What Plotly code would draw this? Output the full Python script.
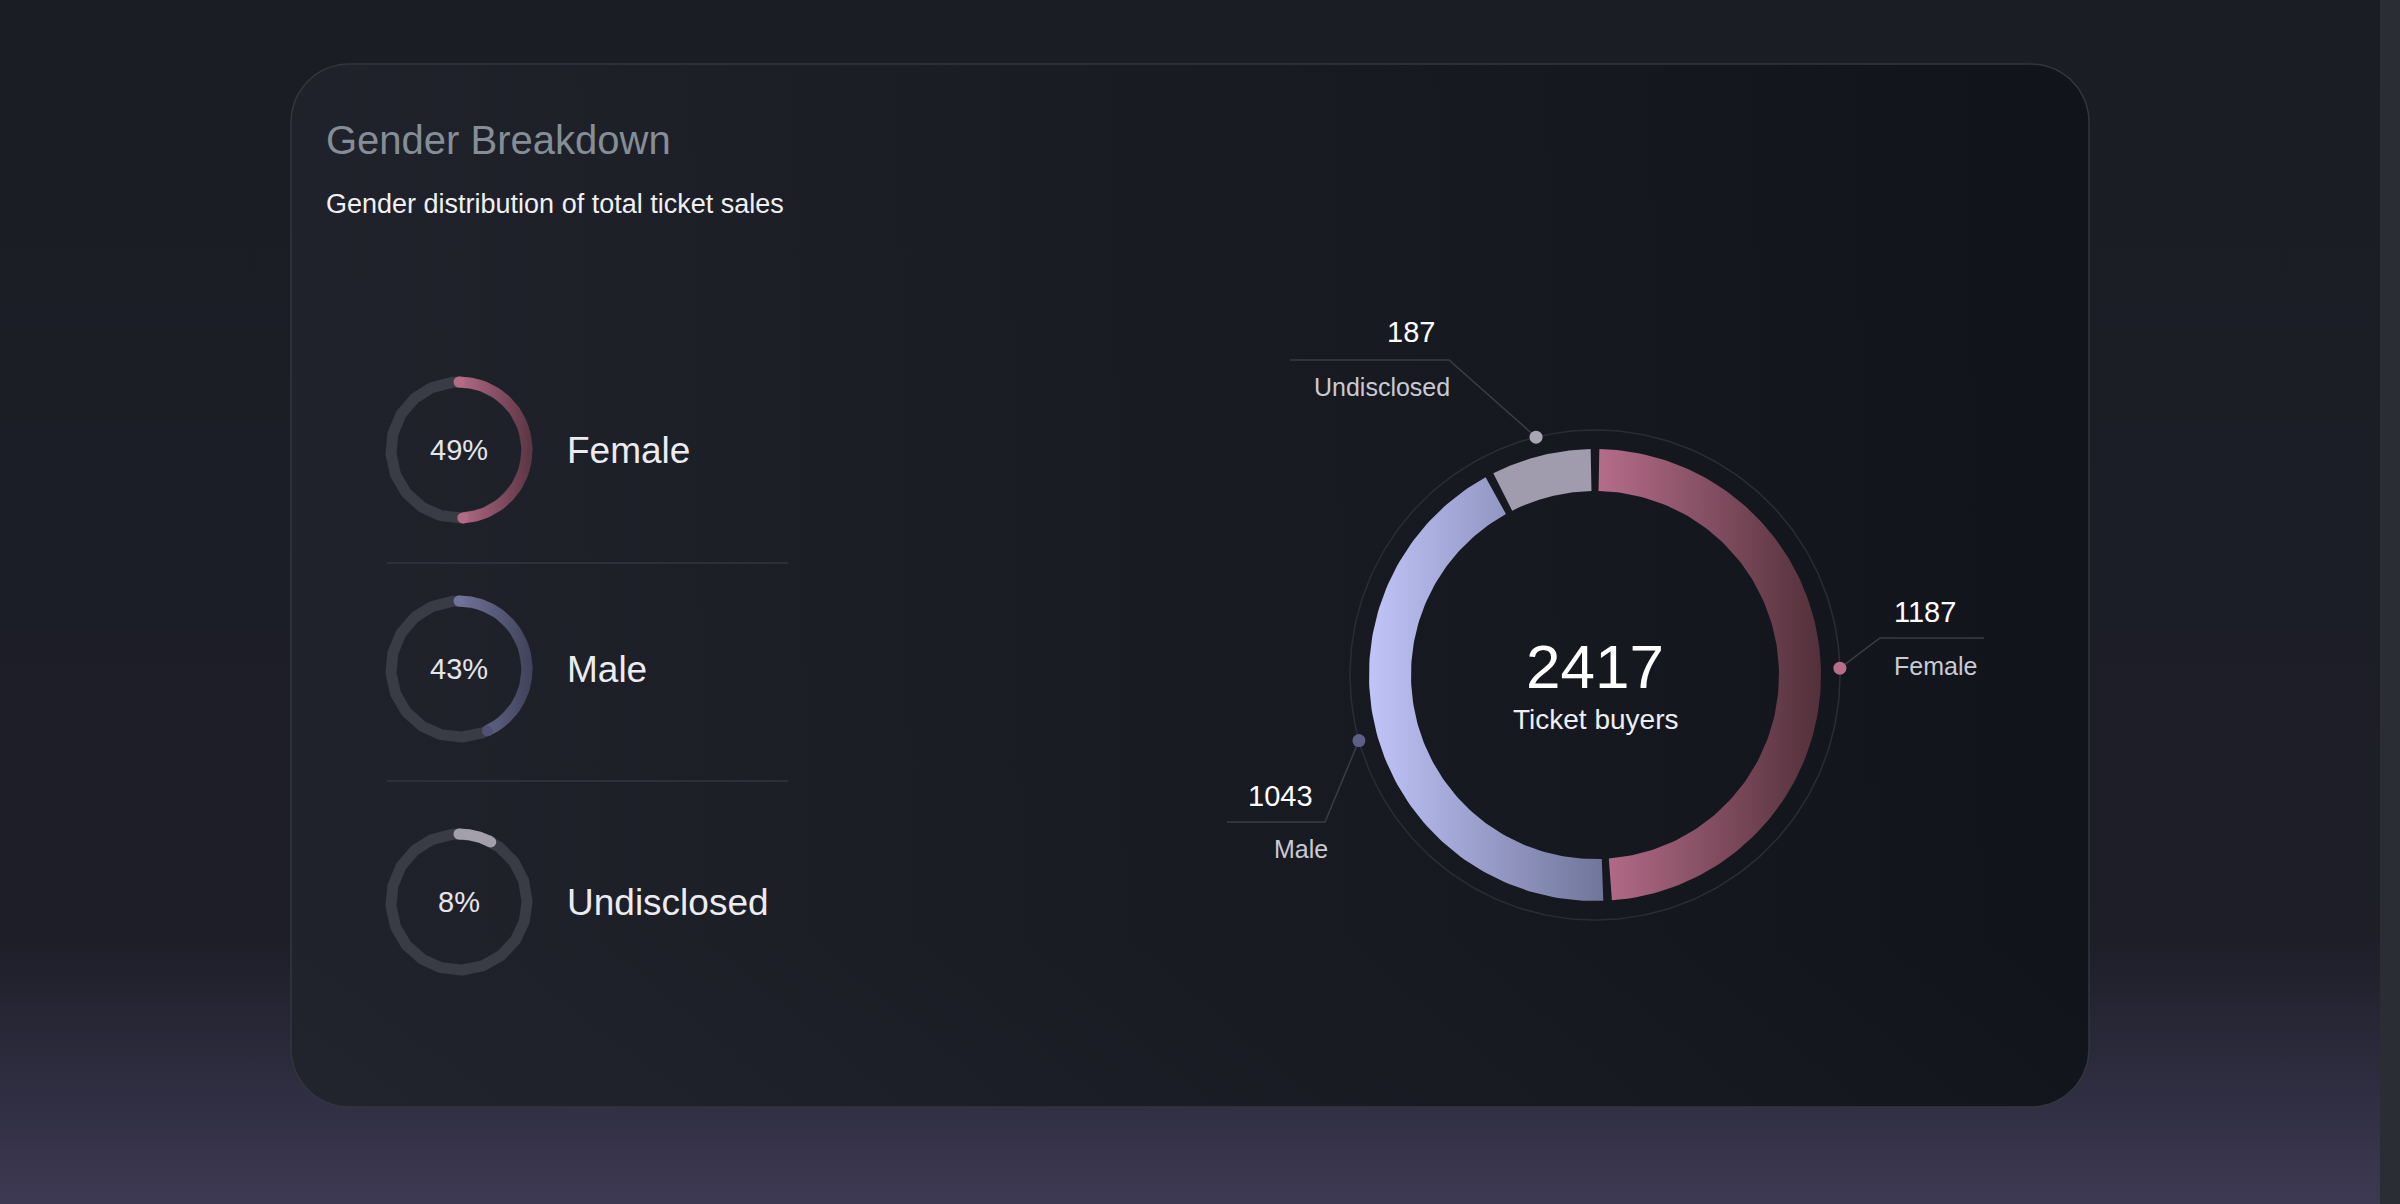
import numpy as np
import plotly.graph_objects as go

categories = ["Female", "Male", "Undisclosed"]
counts = [1187, 1043, 187]
total_label = "Ticket buyers"
pct_labels = ["49%", "43%", "8%"]
title = "Gender Breakdown"
subtitle = "Gender distribution of total ticket sales"

W, H = 2400, 1204
FONT = "Liberation Sans"
fig = go.Figure()

def arc_poly(cx, cy, r0, r1, a0, a1, n=120):
    t = np.radians(np.linspace(a0, a1, n))
    xo = cx + r1 * np.sin(t); yo = cy - r1 * np.cos(t)
    xi = cx + r0 * np.sin(t[::-1]); yi = cy - r0 * np.cos(t[::-1])
    return np.r_[xo, xi, xo[0]], np.r_[yo, yi, yo[0]]

def poly(x, y, color=None, grad=None, line=None):
    kw = dict(x=x, y=y, mode="lines", fill="toself", hoverinfo="skip", showlegend=False,
              line=line or dict(width=0))
    if grad:
        kw["fillgradient"] = grad
    else:
        kw["fillcolor"] = color
    fig.add_trace(go.Scatter(**kw))

# background (gradient index 0 = bottom of screen because y axis is reversed)
poly([0, W, W, 0, 0], [0, 0, H, H, 0],
     grad=dict(type="vertical", colorscale=[[0, "#3d3953"], [0.22, "#1d1e28"], [1, "#1b1d25"]]))
poly([2380, W, W, 2380, 2380], [0, 0, H, H, 0], color="#2b2d34")

# card (rounded rectangle)
x0c, x1c, y0c, y1c, rc = 291, 2089, 64, 1107, 58
ang = np.linspace(0, np.pi / 2, 20)
cx_ = np.r_[x1c - rc + rc * np.sin(ang), x1c - rc + rc * np.cos(ang), x0c + rc - rc * np.sin(ang), x0c + rc - rc * np.cos(ang)]
cy_ = np.r_[y0c + rc - rc * np.cos(ang), y1c - rc + rc * np.sin(ang), y1c - rc + rc * np.cos(ang), y0c + rc - rc * np.sin(ang)]
poly(np.r_[cx_, cx_[0]], np.r_[cy_, cy_[0]],
     grad=dict(type="horizontal", colorscale=[[0, "rgba(33,35,44,0.92)"], [1, "rgba(17,19,26,0.92)"]]),
     line=dict(width=1.5, color="#33363f"))

total = sum(counts)
fracs = [c / total for c in counts]

# main donut
CX, CY, RI, RO, RT = 1595, 675, 184, 226, 245
t = np.radians(np.linspace(0, 360, 300))
fig.add_trace(go.Scatter(x=CX + RT * np.sin(t), y=CY - RT * np.cos(t), mode="lines",
                         line=dict(color="#2a2d37", width=1.5), hoverinfo="skip", showlegend=False))
grads = [["#b56d89", "#52303a"], ["#c0c4f8", "#70759a"], None]
solid = [None, None, "#a09cad"]
dot_colors = ["#b76e8a", "#5d6084", "#a9a6b3"]
start = 0
mids = []
for i, f in enumerate(fracs):
    a0, a1 = start * 360 + 1.1, (start + f) * 360 - 1.1
    mids.append((start + f / 2) * 360)
    x, y = arc_poly(CX, CY, RI, RO, a0, a1)
    if grads[i]:
        poly(x, y, grad=dict(type="horizontal", colorscale=[[0, grads[i][0]], [1, grads[i][1]]]))
    else:
        poly(x, y, color=solid[i])
    start += f

# callouts
dots_x = [CX + RT * np.sin(np.radians(m)) for m in mids]
dots_y = [CY - RT * np.cos(np.radians(m)) for m in mids]
elbow = [(1880, 638), (1325, 822), (1449, 360)]
end = [(1984, 638), (1227, 822), (1290, 360)]
for i in range(3):
    fig.add_trace(go.Scatter(x=[dots_x[i], elbow[i][0], end[i][0]], y=[dots_y[i], elbow[i][1], end[i][1]],
                             mode="lines", line=dict(color="#3a3d47", width=1.5), hoverinfo="skip", showlegend=False))
fig.add_trace(go.Scatter(x=dots_x, y=dots_y, mode="markers", marker=dict(size=13, color=dot_colors),
                         hoverinfo="skip", showlegend=False))
num_pos = [(1925, 612), (1280, 796), (1411, 332)]
lab_pos = [(1935, 666), (1301, 849), (1382, 387)]
ann = []
for i in range(3):
    ann.append(dict(x=num_pos[i][0], y=num_pos[i][1], text=str(counts[i]),
                    font=dict(size=29, color="#ffffff", family=FONT)))
    ann.append(dict(x=lab_pos[i][0], y=lab_pos[i][1], text=categories[i],
                    font=dict(size=25, color="#c9cad3", family=FONT)))
ann.append(dict(x=CX, y=666, text=str(total), font=dict(size=62, color="#ffffff", family=FONT)))
ann.append(dict(x=CX, y=719, text=total_label, font=dict(size=28, color="#eeeef2", family=FONT)))

# small rings
scx, sr, sw = 459, 68, 11
scy = [450, 669, 902]
sgrad = [["#b36b86", "#5a3542"], ["#707399", "#40425a"], None]
for i in range(3):
    cyv = scy[i]
    fig.add_trace(go.Scatter(x=scx + sr * np.sin(t), y=cyv - sr * np.cos(t), mode="lines",
                             line=dict(color="#393c45", width=sw), hoverinfo="skip", showlegend=False))
    a1 = fracs[i] * 360
    x, y = arc_poly(scx, cyv, sr - sw / 2, sr + sw / 2, 0, a1, 80)
    endc = "#a3a0ac"
    if sgrad[i]:
        poly(x, y, grad=dict(type="horizontal", colorscale=[[0, sgrad[i][0]], [1, sgrad[i][1]]]))
        capc = [sgrad[i][0], sgrad[i][0] if i == 0 else "#4f5275"]
    else:
        poly(x, y, color=endc)
        capc = [endc, endc]
    ca = np.radians([0, a1])
    fig.add_trace(go.Scatter(x=scx + sr * np.sin(ca), y=cyv - sr * np.cos(ca), mode="markers",
                             marker=dict(size=sw, color=capc), hoverinfo="skip", showlegend=False))
    ann.append(dict(x=scx, y=cyv, text=pct_labels[i], font=dict(size=29, color="#e6e6ea", family=FONT)))
    ann.append(dict(x=565, y=cyv, text=categories[i], xanchor="left",
                    font=dict(size=37, color="#ececf0", family=FONT)))
for yv in [563, 781]:
    fig.add_trace(go.Scatter(x=[387, 788], y=[yv, yv], mode="lines", line=dict(color="#33363f", width=1.5),
                             hoverinfo="skip", showlegend=False))

ann.append(dict(x=324, y=140, text=title, xanchor="left", font=dict(size=40, color="#858e97", family=FONT)))
ann.append(dict(x=324, y=204, text=subtitle, xanchor="left", font=dict(size=27, color="#f0f0f2", family=FONT)))
for a in ann:
    a.update(xref="x", yref="y", showarrow=False)
    a.setdefault("xanchor", "center")
    a.setdefault("yanchor", "middle")

fig.update_layout(width=W, height=H, margin=dict(l=0, r=0, t=0, b=0),
                  paper_bgcolor="#1b1d25", plot_bgcolor="#1b1d25", annotations=ann,
                  xaxis=dict(range=[0, W], visible=False, fixedrange=True),
                  yaxis=dict(range=[H, 0], visible=False, fixedrange=True))
fig.write_html("out.html", config={"displayModeBar": False},
               post_script="document.body.style.margin='0';document.body.style.overflow='hidden';")
